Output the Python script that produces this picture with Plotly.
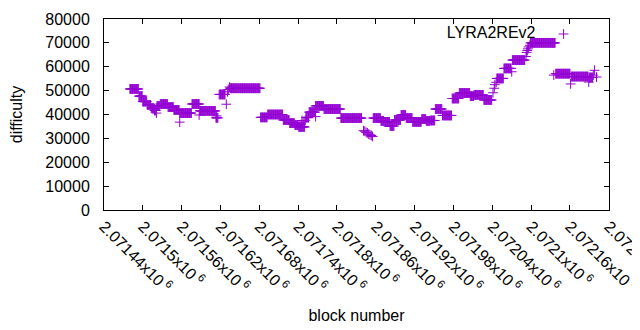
import plotly.graph_objects as go

# ---- data ----
run_start = [2071480, 2071494, 2071500, 2071507, 2071513, 2071518, 2071522, 2071527, 2071539,
             2071548, 2071557, 2071576, 2071588, 2071613, 2071618, 2071635, 2071682, 2071693,
             2071717, 2071727, 2071735, 2071741, 2071752, 2071757, 2071767, 2071780, 2071806,
             2071856, 2071868, 2071873, 2071882, 2071889, 2071899, 2071907, 2071917, 2071931,
             2071938, 2071944, 2071952, 2071963, 2071978, 2071989, 2072006, 2072012, 2072027,
             2072047, 2072058, 2072071, 2072099, 2072138, 2072162, 2072190]
run_end = [2071493, 2071499, 2071506, 2071512, 2071517, 2071520, 2071526, 2071538, 2071547,
           2071556, 2071575, 2071587, 2071612, 2071616, 2071627, 2071681, 2071692, 2071716,
           2071726, 2071734, 2071740, 2071750, 2071756, 2071766, 2071779, 2071805, 2071838,
           2071867, 2071872, 2071881, 2071888, 2071898, 2071906, 2071916, 2071930, 2071937,
           2071943, 2071951, 2071962, 2071977, 2071988, 2072005, 2072011, 2072026, 2072039,
           2072057, 2072069, 2072090, 2072137, 2072160, 2072188, 2072195]
run_diff = [50700, 47700, 45400, 44000, 42700, 41700, 43600, 44400, 43100,
            41900, 40600, 44400, 41500, 38600, 48400, 51000, 38800, 40000,
            37700, 36400, 35600, 34800, 38700, 41000, 43600, 42300, 38500,
            38500, 37300, 36900, 35200, 37700, 39800, 38500, 36900, 38100,
            37300, 37500, 42300, 39600, 46700, 49000, 47700, 48200, 46100,
            55100, 59300, 62800, 70000, 57100, 55900, 55500]

pt_block = [2071521, 2071557, 2071587, 2071614, 2071629, 2071631, 2071632, 2071634,
            2071746, 2071749, 2071751, 2071767,
            2071841, 2071843, 2071845, 2071847, 2071849, 2071851, 2071853, 2071855,
            2072041, 2072043, 2072044, 2072046, 2072070, 2072092,
            2072093, 2072094, 2072095, 2072096, 2072098, 2072135, 2072161, 2072189,
            2072196, 2072198, 2072201]
pt_diff = [40600, 36800, 39800, 39400, 44300, 49500, 50500, 51500,
           37500, 37200, 37600, 39100,
           33200, 33000, 32500, 32300, 31800, 31500, 31200, 30800,
           49100, 51000, 52500, 53500, 57900, 64300,
           66000, 66800, 67500, 68300, 69000, 56500, 52800, 53600,
           56500, 58500, 55700]

tick_vals = [2071440, 2071500, 2071560, 2071620, 2071680, 2071740, 2071800,
             2071860, 2071920, 2071980, 2072040, 2072100, 2072160, 2072220]
tick_mantissa = ["2.07144", "2.0715", "2.07156", "2.07162", "2.07168", "2.07174", "2.0718",
                 "2.07186", "2.07192", "2.07198", "2.07204", "2.0721", "2.07216", "2.07222"]
series_name = "LYRA2REv2"

# ---- build ----
xs, ys = [], []
for s, e, d in zip(run_start, run_end, run_diff):
    for b in range(s, e + 1):
        xs.append(b)
        ys.append(d)
xs += pt_block
ys += pt_diff

tick_text = [m + "x10\u2009<sup>6</sup>" for m in tick_mantissa]

color = "#9400D3"
font = dict(family="Liberation Sans, Arial, sans-serif", size=16, color="black")

fig = go.Figure()
fig.add_trace(go.Scatter(
    x=xs, y=ys, mode="markers", name=" ",
    marker=dict(symbol="cross-thin", size=7, line=dict(color=color, width=1)),
    showlegend=True,
))

# page body has an 8px margin, so the figure is sized to sit inside the 640x330 window
fig.update_layout(
    width=632, height=322,
    margin=dict(l=96, r=31, t=11, b=120, autoexpand=False),
    paper_bgcolor="white", plot_bgcolor="white",
    font=font,
    showlegend=True,
    legend=dict(
        title=dict(text=series_name, side="left", font=font),
        x=0.97, xanchor="right", y=1.01, yanchor="top",
        bgcolor="rgba(0,0,0,0)", borderwidth=0,
        font=font,
    ),
    xaxis=dict(
        range=[2071440, 2072220.3], tickvals=tick_vals, ticktext=tick_text,
        tickangle=45, ticks="inside", ticklen=5, tickcolor="black",
        showline=True, linecolor="black", linewidth=1, mirror="allticks",
        showgrid=False, zeroline=False, automargin=False,
        ticklabeloverflow="allow",
        title=dict(text="block number", font=font, standoff=15),
        tickfont=font,
    ),
    yaxis=dict(
        range=[0, 80000], dtick=10000, tickformat="d",
        ticks="inside", ticklen=5, tickcolor="black",
        showline=True, linecolor="black", linewidth=1, mirror="allticks",
        showgrid=False, zeroline=False, automargin=False,
        title=dict(text="difficulty", font=font, standoff=20),
        tickfont=font, ticklabelstandoff=10,
    ),
)

fig.write_html("out.html")
